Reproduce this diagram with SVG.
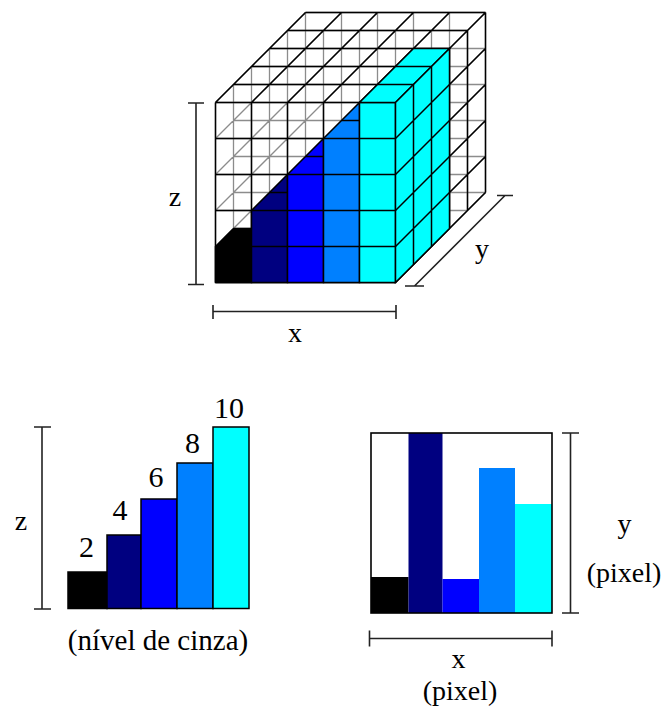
<svg xmlns="http://www.w3.org/2000/svg" width="665" height="709" viewBox="0 0 665 709">
<style>
.t{font-family:"Liberation Serif","Times New Roman",serif;fill:#000;text-anchor:middle}
.grey{fill:none;stroke:#8c8c8c;stroke-width:1.3}
.blk{fill:none;stroke:#000;stroke-width:1.5}
.blkf{stroke:#000;stroke-width:1.5;stroke-linejoin:miter}
.bar{fill:none;stroke:#222;stroke-width:1.6}
</style>
<rect width="665" height="709" fill="#fff"/>
<g id="cube">
<g id="wire-grey">
<path class="grey" d="M215.5 102.5V282.5M251.5 102.5V282.5M287.5 102.5V282.5M323.5 102.5V282.5M359.5 102.5V282.5M395.5 102.5V282.5
M233.5 84.5V264.5M269.5 84.5V264.5M305.5 84.5V264.5M341.5 84.5V264.5M377.5 84.5V264.5M413.5 84.5V264.5
M251.5 66.5V246.5M287.5 66.5V246.5M323.5 66.5V246.5M359.5 66.5V246.5M395.5 66.5V246.5M431.5 66.5V246.5
M269.5 48.5V228.5M305.5 48.5V228.5M341.5 48.5V228.5M377.5 48.5V228.5M413.5 48.5V228.5M449.5 48.5V228.5
M287.5 30.5V210.5M323.5 30.5V210.5M359.5 30.5V210.5M395.5 30.5V210.5M431.5 30.5V210.5M467.5 30.5V210.5
M305.5 12.5V192.5M341.5 12.5V192.5M377.5 12.5V192.5M413.5 12.5V192.5M449.5 12.5V192.5M485.5 12.5V192.5
M215.5 102.5H395.5M215.5 138.5H395.5M215.5 174.5H395.5M215.5 210.5H395.5M215.5 246.5H395.5M215.5 282.5H395.5
M233.5 84.5H413.5M233.5 120.5H413.5M233.5 156.5H413.5M233.5 192.5H413.5M233.5 228.5H413.5M233.5 264.5H413.5
M251.5 66.5H431.5M251.5 102.5H431.5M251.5 138.5H431.5M251.5 174.5H431.5M251.5 210.5H431.5M251.5 246.5H431.5
M269.5 48.5H449.5M269.5 84.5H449.5M269.5 120.5H449.5M269.5 156.5H449.5M269.5 192.5H449.5M269.5 228.5H449.5
M287.5 30.5H467.5M287.5 66.5H467.5M287.5 102.5H467.5M287.5 138.5H467.5M287.5 174.5H467.5M287.5 210.5H467.5
M305.5 12.5H485.5M305.5 48.5H485.5M305.5 84.5H485.5M305.5 120.5H485.5M305.5 156.5H485.5M305.5 192.5H485.5
M215.5 102.5l90 -90M251.5 102.5l90 -90M287.5 102.5l90 -90M323.5 102.5l90 -90M359.5 102.5l90 -90M395.5 102.5l90 -90
M215.5 138.5l90 -90M251.5 138.5l90 -90M287.5 138.5l90 -90M323.5 138.5l90 -90M359.5 138.5l90 -90M395.5 138.5l90 -90
M215.5 174.5l90 -90M251.5 174.5l90 -90M287.5 174.5l90 -90M323.5 174.5l90 -90M359.5 174.5l90 -90M395.5 174.5l90 -90
M215.5 210.5l90 -90M251.5 210.5l90 -90M287.5 210.5l90 -90M323.5 210.5l90 -90M359.5 210.5l90 -90M395.5 210.5l90 -90
M215.5 246.5l90 -90M251.5 246.5l90 -90M287.5 246.5l90 -90M323.5 246.5l90 -90M359.5 246.5l90 -90M395.5 246.5l90 -90
M215.5 282.5l90 -90M251.5 282.5l90 -90M287.5 282.5l90 -90M323.5 282.5l90 -90M359.5 282.5l90 -90M395.5 282.5l90 -90"/>
</g>
<g id="wire-surface">
<path class="blk" d="M215.5 102.5V282.5M251.5 102.5V282.5M287.5 102.5V282.5M323.5 102.5V282.5M359.5 102.5V282.5M395.5 102.5V282.5
M215.5 102.5H395.5M215.5 138.5H395.5M215.5 174.5H395.5M215.5 210.5H395.5M215.5 246.5H395.5M215.5 282.5H395.5
M215.5 102.5l90 -90M251.5 102.5l90 -90M287.5 102.5l90 -90M323.5 102.5l90 -90M359.5 102.5l90 -90M395.5 102.5l90 -90
M233.5 84.5H413.5M251.5 66.5H431.5M269.5 48.5H449.5M287.5 30.5H467.5M305.5 12.5H485.5
M413.5 84.5V264.5M431.5 66.5V246.5M449.5 48.5V228.5M467.5 30.5V210.5M485.5 12.5V192.5
M395.5 138.5l90 -90M395.5 174.5l90 -90M395.5 210.5l90 -90M395.5 246.5l90 -90M395.5 282.5l90 -90"/>
</g>
<g id="block-black">
<polygon class="blkf" fill="#000000" points="215.5,282.5 251.5,282.5 251.5,228.5 233.5,228.5 215.5,246.5"/>
<path class="blk" d="M215.5 246.5H251.5"/>
</g>
<g id="block-navy">
<polygon class="blkf" fill="#000080" points="251.5,282.5 287.5,282.5 287.5,174.5 251.5,210.5"/>
<path class="blk" d="M251.5 210.5H287.5M251.5 246.5H287.5M269.5 192.5H287.5"/>
</g>
<g id="block-blue">
<polygon class="blkf" fill="#0000ff" points="287.5,282.5 323.5,282.5 323.5,138.5 287.5,174.5"/>
<path class="blk" d="M287.5 174.5H323.5M287.5 210.5H323.5M287.5 246.5H323.5M305.5 156.5H323.5"/>
</g>
<g id="block-lightblue">
<polygon class="blkf" fill="#0080ff" points="323.5,282.5 359.5,282.5 359.5,102.5 323.5,138.5"/>
<path class="blk" d="M323.5 138.5H359.5M323.5 174.5H359.5M323.5 210.5H359.5M323.5 246.5H359.5M341.5 120.5H359.5"/>
</g>
<g id="block-cyan">
<rect class="blkf" fill="#00ffff" x="359.5" y="102.5" width="36" height="180"/>
<polygon class="blkf" fill="#00ffff" points="359.5,102.5 395.5,102.5 449.5,48.5 413.5,48.5"/>
<polygon class="blkf" fill="#00ffff" points="395.5,102.5 449.5,48.5 449.5,228.5 395.5,282.5"/>
<path class="blk" d="M359.5 138.5H395.5M359.5 174.5H395.5M359.5 210.5H395.5M359.5 246.5H395.5
M377.5 84.5H413.5M395.5 66.5H431.5M413.5 84.5V264.5M431.5 66.5V246.5
M395.5 138.5l54 -54M395.5 174.5l54 -54M395.5 210.5l54 -54M395.5 246.5l54 -54"/>
</g>
</g>
<g id="connectors">
<path class="bar" d="M196 103V284.5M188 103H204M188 284.5H204"/>
<path class="bar" d="M213 311.5H396M213 305V319M396 305V319"/>
<path class="bar" d="M414.5 286L505 195.5M405 286H424M497 195.5H513"/>
<path class="bar" d="M42 427V609M34 427H51M34 609H51"/>
<path class="bar" d="M570.5 433V613M562 433H579M562 613H579"/>
<path class="bar" d="M369.5 638.5H552M369.5 630.5V646.5M552 630.5V646.5"/>
</g>
<g id="labels-top">
<text class="t" x="175" y="206" font-size="28">z</text>
<text class="t" x="295" y="342" font-size="28">x</text>
<text class="t" x="482" y="258" font-size="28">y</text>
</g>
<g id="chart-gray">
<rect class="blkf" fill="#000000" x="68" y="572" width="39" height="36.5"/>
<rect class="blkf" fill="#000080" x="107" y="535" width="34" height="73.5"/>
<rect class="blkf" fill="#0000ff" x="141" y="499" width="36" height="109.5"/>
<rect class="blkf" fill="#0080ff" x="177" y="463" width="36" height="145.5"/>
<rect class="blkf" fill="#00ffff" x="213" y="427" width="36" height="181.5"/>
<text class="t" x="86.5" y="557" font-size="30">2</text>
<text class="t" x="120" y="520" font-size="30">4</text>
<text class="t" x="156" y="487" font-size="30">6</text>
<text class="t" x="192.5" y="453" font-size="30">8</text>
<text class="t" x="229" y="418" font-size="30">10</text>
<text class="t" x="21" y="530" font-size="28">z</text>
<text class="t" x="158" y="650" font-size="29">(nível de cinza)</text>
</g>
<g id="chart-image">
<rect x="371" y="433" width="181" height="180" fill="#fff"/>
<rect x="371" y="577" width="37.5" height="36" fill="#000000"/>
<rect x="408.5" y="433" width="34" height="180" fill="#000080"/>
<rect x="442.5" y="579" width="36.5" height="34" fill="#0000ff"/>
<rect x="479" y="468" width="36" height="145" fill="#0080ff"/>
<rect x="515" y="504" width="37" height="109" fill="#00ffff"/>
<rect x="371" y="433" width="181" height="180" fill="none" stroke="#000" stroke-width="1.6"/>
<text class="t" x="458.5" y="668" font-size="28">x</text>
<text class="t" x="460" y="700" font-size="28">(pixel)</text>
<text class="t" x="624.5" y="533" font-size="28">y</text>
<text class="t" x="624" y="582" font-size="28">(pixel)</text>
</g>
</svg>
